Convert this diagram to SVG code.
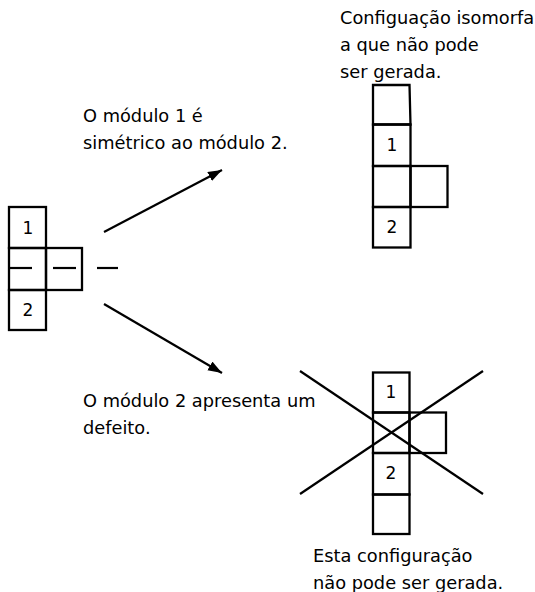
<svg xmlns="http://www.w3.org/2000/svg" width="535" height="592" viewBox="0 0 535 592">
<style>
.sq{fill:none;stroke:#000;stroke-width:2.3;stroke-linejoin:miter}
.ln{fill:none;stroke:#000;stroke-width:2.2}
.t{font-family:"DejaVu Sans",sans-serif;font-size:17.8px;fill:#000}
.n{font-family:"DejaVu Sans",sans-serif;font-size:17px;fill:#000;text-anchor:middle}
</style>
<defs>
<marker id="ah" markerUnits="userSpaceOnUse" markerWidth="16" markerHeight="12" refX="14" refY="5" orient="auto">
<path d="M0,0 L14,5 L0,10 Z" fill="#000"/>
</marker>
</defs>
<rect width="535" height="592" fill="#fff"/>
<g id="left-figure">
<rect class="sq" x="9" y="207" width="37" height="41"/>
<rect class="sq" x="9" y="248" width="37" height="42"/>
<rect class="sq" x="46" y="248" width="36" height="42"/>
<rect class="sq" x="9" y="290" width="37" height="40"/>
<text class="n" x="28" y="234">1</text>
<text class="n" x="28" y="316">2</text>
<line class="ln" x1="9" y1="268" x2="32" y2="268"/>
<line class="ln" x1="53" y1="268" x2="76" y2="268"/>
<line class="ln" x1="97" y1="268" x2="118" y2="268"/>
</g>
<g id="connectors">
<line class="ln" x1="104" y1="232" x2="222" y2="170" marker-end="url(#ah)"/>
<line class="ln" x1="104" y1="304" x2="222" y2="373" marker-end="url(#ah)"/>
</g>
<g id="top-figure">
<path class="sq" d="M373,85 L409.5,85 L410.5,124.5 L373,124.5 Z"/>
<rect class="sq" x="373" y="124.5" width="37.5" height="41.5"/>
<rect class="sq" x="373" y="166" width="37.5" height="41"/>
<rect class="sq" x="410.5" y="166" width="37" height="41"/>
<rect class="sq" x="373" y="207" width="37.5" height="40.5"/>
<text class="n" x="392" y="151">1</text>
<text class="n" x="392" y="233">2</text>
</g>
<g id="bottom-figure">
<rect class="sq" x="373" y="372.5" width="36.5" height="40"/>
<rect class="sq" x="373" y="412.5" width="36.5" height="40.5"/>
<rect class="sq" x="409.5" y="412.5" width="36.5" height="40.5"/>
<rect class="sq" x="373" y="453" width="36.5" height="41.5"/>
<rect class="sq" x="373" y="494.5" width="36.5" height="39.5"/>
<text class="n" x="391" y="398">1</text>
<text class="n" x="391" y="479">2</text>
<line class="ln" x1="300" y1="371" x2="483" y2="494"/>
<line class="ln" x1="300" y1="494" x2="483" y2="371"/>
</g>
<g id="labels">
<text class="t" x="340" y="24">Configuação isomorfa</text>
<text class="t" x="340" y="51">a que não pode</text>
<text class="t" x="340" y="78">ser gerada.</text>
<text class="t" x="83" y="122">O módulo 1 é</text>
<text class="t" x="83" y="149">simétrico ao módulo 2.</text>
<text class="t" x="83" y="407">O módulo 2 apresenta um</text>
<text class="t" x="83" y="434">defeito.</text>
<text class="t" x="313" y="562">Esta configuração</text>
<text class="t" x="313" y="589">não pode ser gerada.</text>
</g>
</svg>
